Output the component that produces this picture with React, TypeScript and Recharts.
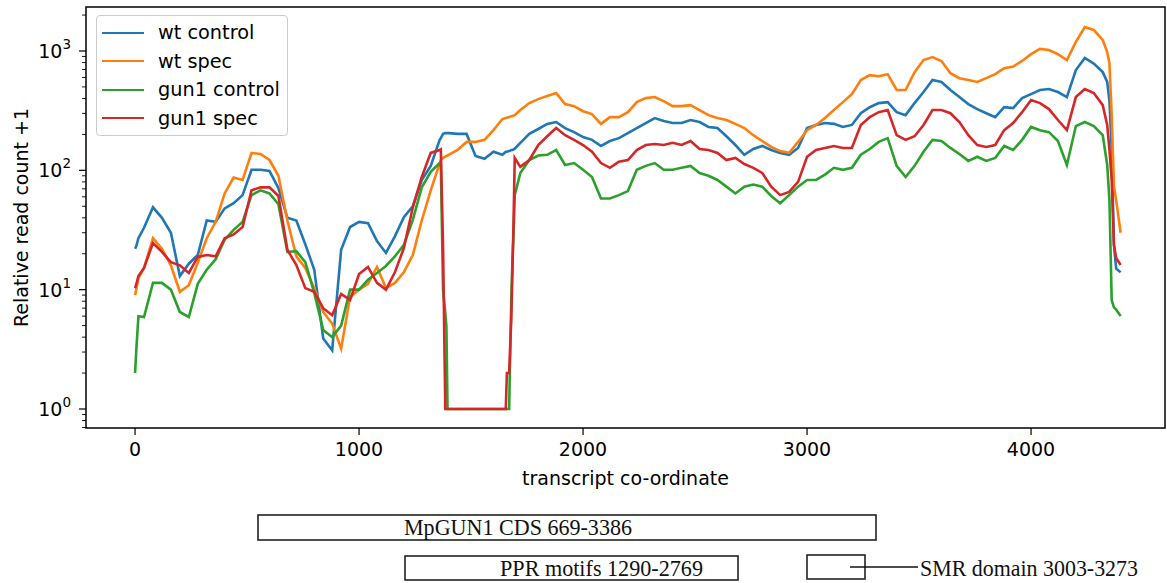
import React from 'react';
import { LineChart, Line, XAxis, YAxis, Legend, Label } from 'recharts';

const FONT = '"DejaVu Sans", sans-serif';
const SERIF = '"Liberation Serif", "Times New Roman", serif';

// transcript co-ordinates sampled
const positions = [
  0, 5, 15,
  40, 80, 120, 160, 200, 240, 280, 320, 360, 400, 440, 480, 520, 560, 600, 640, 680, 720, 760, 800,
  840, 880, 920, 960, 1000, 1040, 1080, 1120, 1160, 1200, 1240, 1280, 1320, 1360,
  1365, 1375, 1385, 1390, 1395,
  1400, 1440, 1480, 1520, 1560, 1600, 1640,
  1655, 1660, 1670, 1680, 1685, 1690, 1695,
  1720, 1760, 1800, 1840, 1880, 1920, 1960, 2000, 2040, 2080, 2120, 2160, 2200, 2240, 2280,
  2320, 2360, 2400, 2440, 2480, 2520, 2560, 2600, 2640, 2680, 2720, 2760, 2800, 2840, 2880,
  2920, 2960, 3000, 3040, 3080, 3120, 3160, 3200, 3240, 3280, 3320, 3360, 3400, 3440, 3480,
  3520, 3560, 3600, 3640, 3680, 3720, 3760, 3800, 3840, 3880, 3920, 3960, 4000, 4040, 4080,
  4120, 4160, 4200, 4240, 4280, 4320,
  4340, 4350, 4360, 4370, 4380, 4400,
];

const wtControl = [
  22, 23, 27,
  33, 49, 40, 30, 13, 16.5, 19.5, 38, 37, 48, 53, 62, 101, 101, 99, 71, 40, 38, 24, 14.7,
  3.9, 3.1, 21.6, 33.5, 37, 36, 25.5, 20.3, 28, 40.5, 50, 83, 109, 180,
  186, 202, 205, 205, 205,
  205, 202, 202, 132, 125, 143, 135,
  143, 143, 145, 148, 148, 150, 152,
  170, 202, 222, 245, 254, 226, 209, 190, 180, 160, 176, 186, 205, 226, 249,
  274, 259, 249, 249, 264, 254, 231, 226, 193, 163, 135, 151, 160, 148, 140,
  135, 154, 226, 240, 249, 245, 231, 240, 301, 338, 366, 373, 307, 290, 366,
  453, 571, 550, 471, 411, 359, 326, 301, 279, 338, 332, 403, 435, 471, 480,
  453, 411, 692, 875, 785, 665,
  550, 380, 150, 24, 15, 14,
];

const wtSpec = [
  9, 10, 12.5,
  15.2, 27, 22, 16, 9.6, 10.9, 16.8, 27, 37, 64, 87, 83, 140, 137, 122, 90, 38, 19, 15.2, 10.3,
  6.5, 5.2, 3.2, 8.7, 10, 11.2, 15.5, 10.3, 11.4, 14, 19.5, 38, 68, 115,
  122, 127, 130, 132, 133,
  135, 148, 173, 173, 180, 217, 269,
  274, 276, 280, 284, 285, 288, 290,
  320, 366, 395, 419, 444, 359, 345, 313, 296, 245, 279, 279, 307, 373, 403,
  411, 380, 345, 345, 352, 320, 290, 274, 264, 245, 226, 197, 176, 157, 145,
  140, 173, 217, 240, 274, 320, 373, 435, 571, 627, 615, 640, 471, 471, 665,
  840, 890, 825, 652, 592, 571, 550, 592, 640, 718, 740, 825, 940, 1040, 1020,
  940, 840, 1190, 1590, 1500, 1236,
  980, 790, 290, 74, 56, 30,
];

const gun1Control = [
  2, 3, 6,
  5.9, 11.4, 11.4, 10, 6.5, 5.9, 11.2, 14.7, 18, 26.2, 31.7, 37, 62, 68, 64, 52, 20.7, 21, 17, 9.4,
  4.6, 4, 5, 10, 10, 12.1, 13.8, 15.8, 19, 23.7, 38.4, 72, 97, 115,
  115, 10, 6.4, 4.9, 1,
  1, 1, 1, 1, 1, 1, 1,
  1, 1, 1, 9, 18, 30, 62,
  95, 122, 133, 135, 148, 111, 115, 101, 88, 58, 58, 62, 67, 101, 109,
  115, 101, 101, 105, 109, 95, 90, 83, 73, 64, 73, 76, 73, 61, 53,
  62, 73, 83, 83, 92, 105, 101, 105, 135, 151, 173, 186, 109, 88, 109,
  143, 180, 176, 154, 137, 120, 130, 120, 127, 160, 148, 180, 231, 217, 209,
  176, 111, 235, 254, 235, 197,
  111, 56, 8.2, 7.1, 6.8, 6,
];

const gun1Spec = [
  10.3, 11, 13,
  15.2, 24.6, 20.7, 17, 16, 13.8, 18.8, 19.5, 19, 27, 29, 33.5, 68, 72, 72, 61, 21.6, 16.1, 10.3, 9.6,
  7, 6.1, 9.2, 8.2, 13.5, 15.5, 11.4, 10, 14, 22.3, 49, 88, 140, 148,
  150, 23, 1, 1, 1,
  1, 1, 1, 1, 1, 1, 1,
  1, 2, 2, 6, 15, 40, 127,
  107, 122, 163, 193, 226, 197, 180, 163, 143, 115, 105, 118, 122, 148, 163,
  166, 163, 170, 163, 176, 151, 148, 140, 122, 127, 113, 105, 95, 73, 62,
  66, 80, 130, 148, 154, 160, 154, 154, 240, 279, 307, 320, 197, 180, 193,
  240, 320, 320, 301, 254, 197, 163, 157, 163, 217, 249, 307, 388, 366, 326,
  264, 217, 411, 480, 444, 352,
  240, 148, 83, 23.7, 18.4, 16.1,
];

const xTicks = [0, 1000, 2000, 3000, 4000];
const yMajorTicks = [1, 10, 100, 1000];
const yMinorTicks = [0.7, 0.8, 0.9, 2, 3, 4, 5, 6, 7, 8, 9, 20, 30, 40, 50, 60, 70, 80, 90,
  200, 300, 400, 500, 600, 700, 800, 900, 2000];

const seriesDefs = [
  { key: 'wtControl', name: 'wt control', color: '#1f77b4' },
  { key: 'wtSpec', name: 'wt spec', color: '#ff7f0e' },
  { key: 'gun1Control', name: 'gun1 control', color: '#2ca02c' },
  { key: 'gun1Spec', name: 'gun1 spec', color: '#d62728' },
];

const rows = positions.map((x, i) => ({
  x,
  wtControl: wtControl[i],
  wtSpec: wtSpec[i],
  gun1Control: gun1Control[i],
  gun1Spec: gun1Spec[i],
}));

const allYTicks = [...yMinorTicks, ...yMajorTicks].sort((a, b) => a - b);

const YTick = (props: any) => {
  const { x, y, payload } = props;
  const v = payload.value;
  const major = yMajorTicks.includes(v);
  const exp = Math.round(Math.log10(v));
  return (
    <g>
      <line x1={x - (major ? 7 : 4)} x2={x} y1={y} y2={y} stroke="#000" strokeWidth={major ? 1.2 : 0.9} />
      {major && (
        <text x={x - 15} y={y + 7} textAnchor="end" fontSize={19} fontFamily={FONT} fill="#000">
          10<tspan dy={-9} fontSize={13.5}>{exp}</tspan>
        </text>
      )}
    </g>
  );
};

const LegendBox = () => (
  <div style={{
    width: 192, height: 121, boxSizing: 'border-box', border: '1px solid #cccccc',
    borderRadius: 4, background: 'rgba(255,255,255,0.85)', paddingTop: 2.5, fontFamily: FONT,
  }}>
    {seriesDefs.map((s) => (
      <div key={s.key} style={{ height: 28.5, display: 'flex', alignItems: 'center' }}>
        <div style={{ marginLeft: 5, width: 42, height: 0, borderTop: `2.8px solid ${s.color}` }} />
        <span style={{ marginLeft: 14, fontSize: 19.3, color: '#000', lineHeight: 1, whiteSpace: 'nowrap' }}>{s.name}</span>
      </div>
    ))}
  </div>
);

export default function App() {
  return (
    <div style={{ position: 'absolute', left: 0, top: 0, width: 1167, height: 583, background: '#fff' }}>
      <LineChart width={1167} height={583} data={rows} margin={{ top: 7, right: 2, left: 0, bottom: 0 }}>
        <XAxis
          dataKey="x"
          type="number"
          domain={[-219, 4598]}
          allowDataOverflow
          ticks={xTicks}
          interval={0}
          height={155}
          axisLine={false}
          tickSize={7}
          tickMargin={8}
          tickLine={{ stroke: '#000', strokeWidth: 1.2 }}
          tick={{ fontSize: 19, fill: '#000', fontFamily: FONT }}
        >
          <Label
            content={(p: any) => {
              const vb = p.viewBox || { x: 86, y: 428, width: 1079 };
              return (
                <text x={vb.x + vb.width / 2} y={vb.y + 57} textAnchor="middle" fontSize={19} fontFamily={FONT} fill="#000">
                  transcript co-ordinate
                </text>
              );
            }}
          />
        </XAxis>
        <YAxis
          type="number"
          scale="log"
          domain={[0.693, 2337]}
          allowDataOverflow
          ticks={allYTicks}
          interval={0}
          width={86}
          axisLine={false}
          tickLine={false}
          tickSize={0}
          tickMargin={0}
          tick={<YTick />}
        >
          <Label
            content={(p: any) => {
              const vb = p.viewBox || { x: 0, y: 7, width: 86, height: 421 };
              const cx = vb.x + 27.5;
              const cy = vb.y + vb.height / 2;
              return (
                <text x={cx} y={cy} transform={`rotate(-90, ${cx}, ${cy})`} textAnchor="middle" fontSize={19} fontFamily={FONT} fill="#000">
                  Relative read count +1
                </text>
              );
            }}
          />
        </YAxis>
        <Legend
          layout="vertical"
          align="center"
          verticalAlign="middle"
          wrapperStyle={{ left: 96, top: 15, width: 192, height: 121 }}
          content={<LegendBox />}
        />
        {seriesDefs.map((s) => (
          <Line
            key={s.key}
            dataKey={s.key}
            name={s.name}
            stroke={s.color}
            strokeWidth={2.6}
            type="linear"
            dot={false}
            activeDot={false}
            isAnimationActive={false}
          />
        ))}
      </LineChart>
      <svg width={1167} height={583} style={{ position: 'absolute', left: 0, top: 0, pointerEvents: 'none' }}>
        <rect x={86} y={7} width={1079} height={421} fill="none" stroke="#000" strokeWidth={1.5} />
        <rect x={258} y={515} width={618} height={25} fill="none" stroke="#222" strokeWidth={1.6} />
        <text x={404} y={535} fontSize={23} fontFamily={SERIF} fill="#111" textLength={228} lengthAdjust="spacingAndGlyphs">
          MpGUN1 CDS 669-3386
        </text>
        <rect x={405} y={556} width={333} height={24} fill="none" stroke="#222" strokeWidth={1.6} />
        <text x={500} y={576} fontSize={23} fontFamily={SERIF} fill="#111" textLength={203} lengthAdjust="spacingAndGlyphs">
          PPR motifs 1290-2769
        </text>
        <rect x={807} y={555} width={58} height={24} fill="none" stroke="#222" strokeWidth={1.6} />
        <line x1={850} x2={918} y1={567} y2={567} stroke="#111" strokeWidth={1.6} />
        <text x={920} y={576} fontSize={23} fontFamily={SERIF} fill="#111" textLength={218} lengthAdjust="spacingAndGlyphs">
          SMR domain 3003-3273
        </text>
      </svg>
    </div>
  );
}
